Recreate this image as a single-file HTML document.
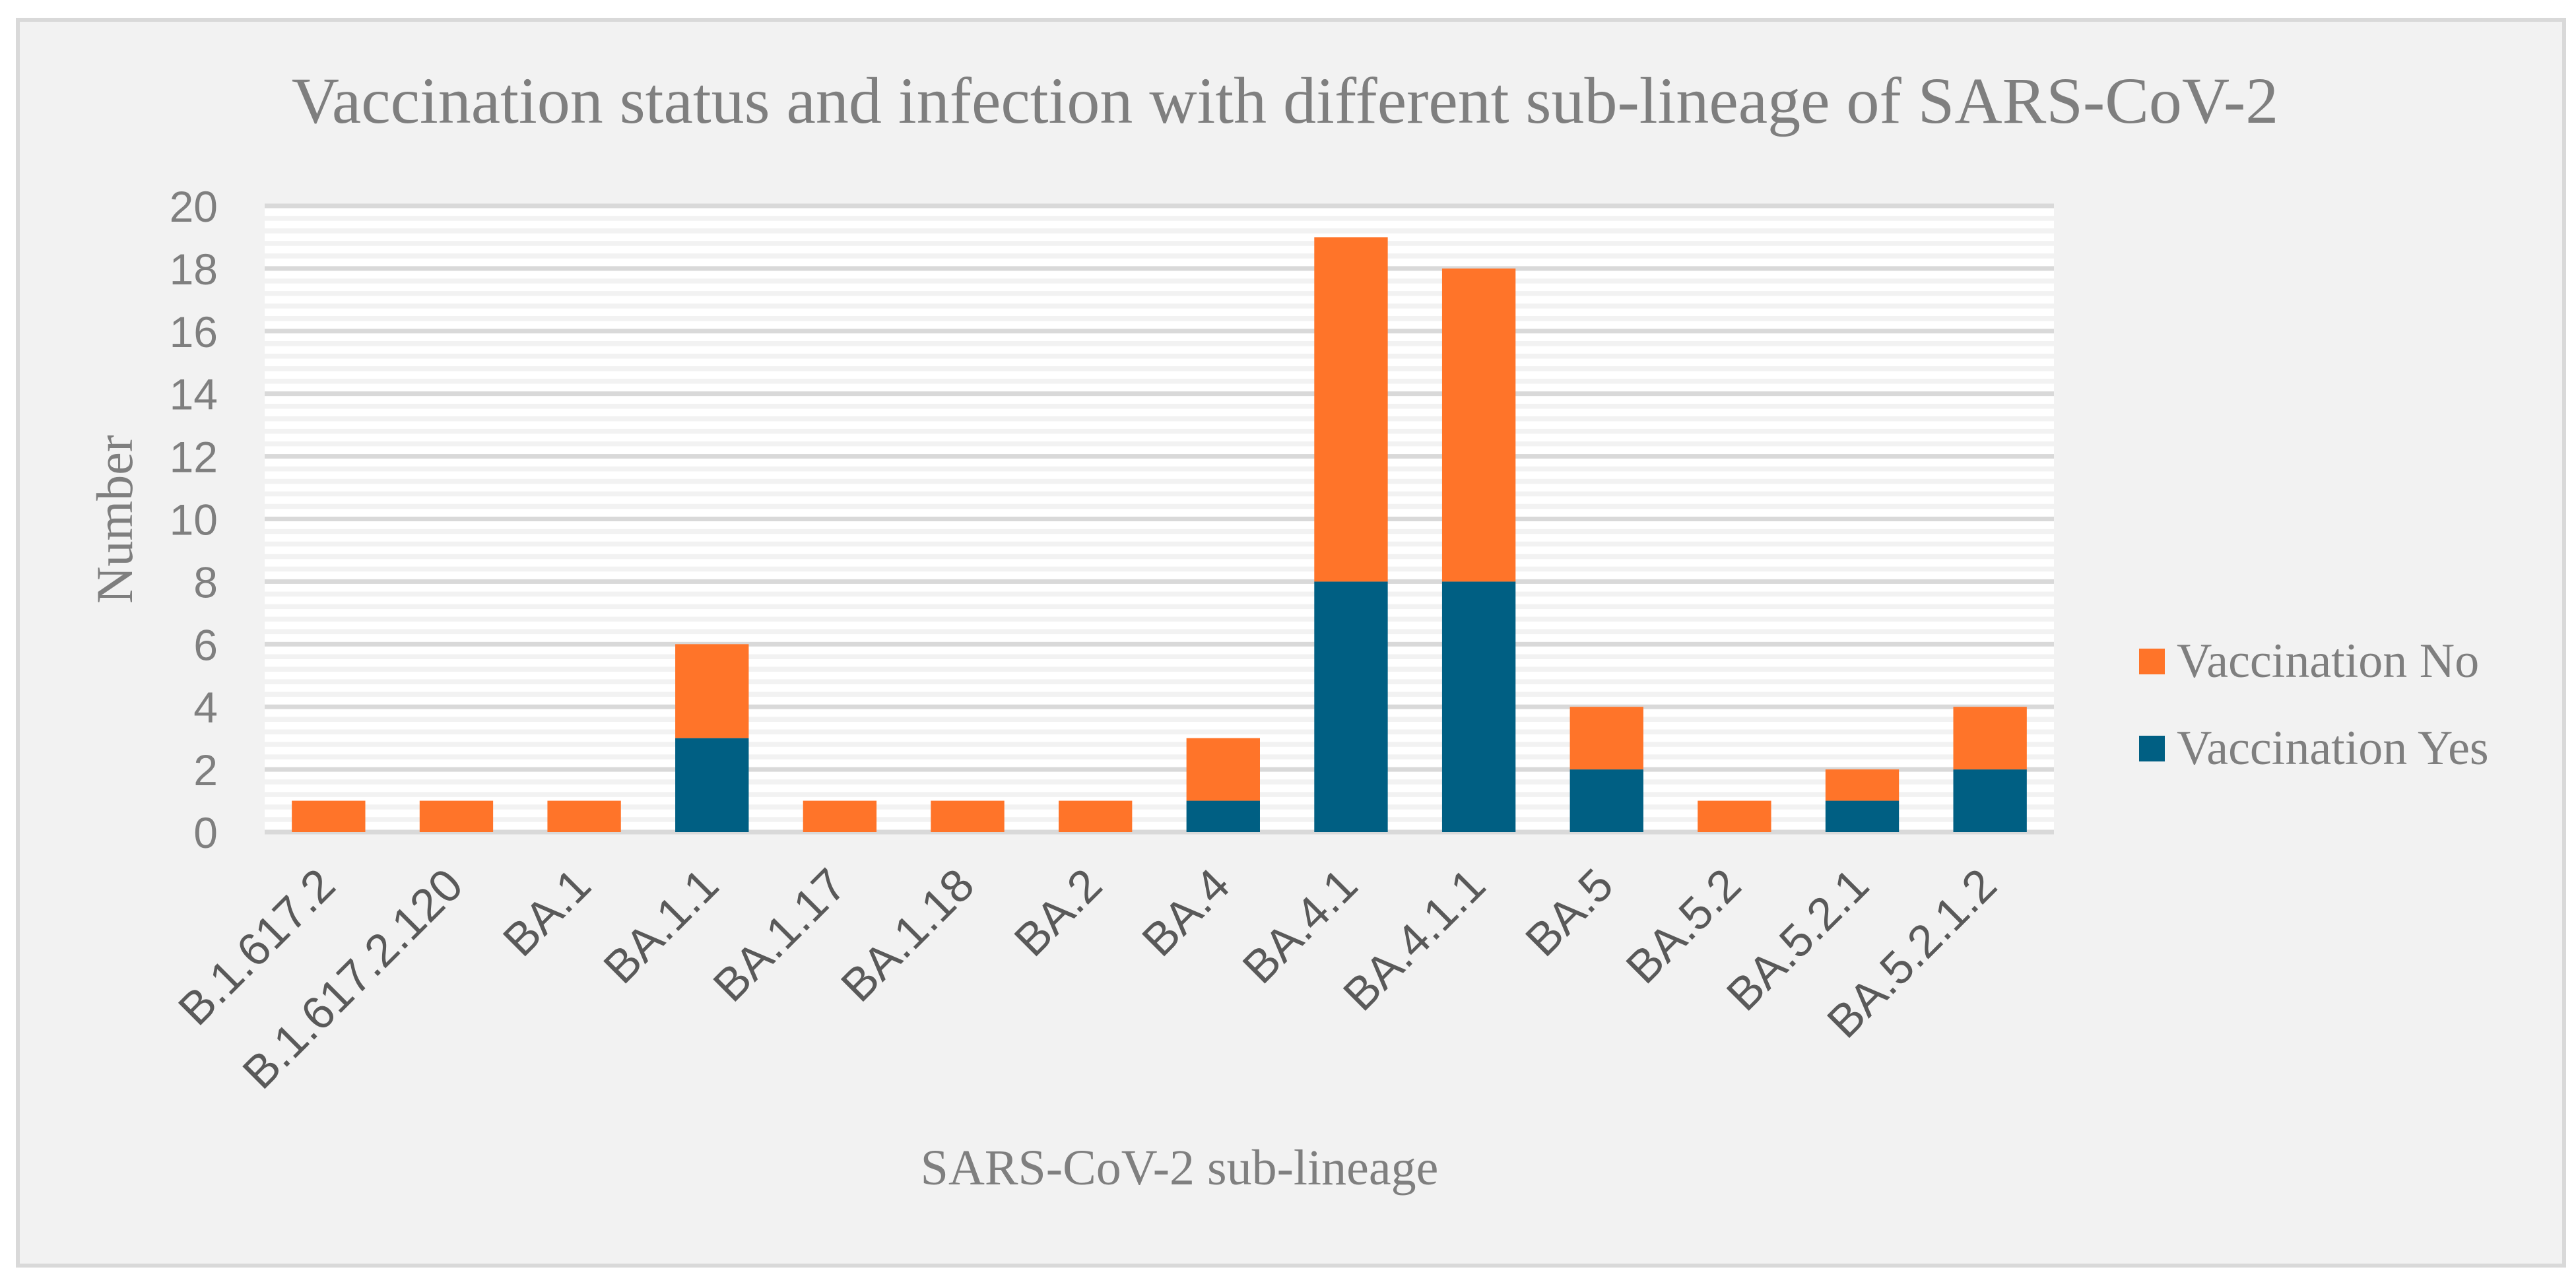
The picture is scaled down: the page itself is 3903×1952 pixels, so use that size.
<!DOCTYPE html>
<html><head><meta charset="utf-8"><style>
html,body{margin:0;padding:0;background:#fff}
svg{display:block}
</style></head><body>
<svg id="chart" width="3903" height="1952" viewBox="0 0 3903 1952" xmlns="http://www.w3.org/2000/svg">
<rect x="27" y="30" width="3858" height="1888" fill="#f2f2f2" stroke="#d9d9d9" stroke-width="6"/>
<text x="1947" y="186" text-anchor="middle" font-family="'Liberation Serif',serif" font-size="100" fill="#7f7f7f">Vaccination status and infection with different sub-lineage of SARS-CoV-2</text>
<g id="grid"></g>
<g id="yticks"></g>
<g id="bars"></g>
<g id="xticks"></g>
<text transform="translate(200,787) rotate(-90)" text-anchor="middle" font-family="'Liberation Serif',serif" font-size="78" fill="#7f7f7f">Number</text>
<text x="1787" y="1795" text-anchor="middle" font-family="'Liberation Serif',serif" font-size="76" fill="#7f7f7f">SARS-CoV-2 sub-lineage</text>
<g>
<rect x="3241" y="983" width="39" height="39" fill="#ff7429"/>
<text x="3298" y="1026" font-family="'Liberation Serif',serif" font-size="74" fill="#7f7f7f">Vaccination No</text>
<rect x="3241" y="1115" width="39" height="39" fill="#005f83"/>
<text x="3298" y="1158" font-family="'Liberation Serif',serif" font-size="74" fill="#7f7f7f">Vaccination Yes</text>
</g>
</svg>
<script>
const categories = ["B.1.617.2","B.1.617.2.120","BA.1","BA.1.1","BA.1.17","BA.1.18","BA.2","BA.4","BA.4.1","BA.4.1.1","BA.5","BA.5.2","BA.5.2.1","BA.5.2.1.2"];
const vaccYes = [0,0,0,3,0,0,0,1,8,8,2,0,1,2];
const vaccNo  = [1,1,1,3,1,1,1,2,11,10,2,1,1,2];
const yTicks = [0,2,4,6,8,10,12,14,16,18,20];

const NS = "http://www.w3.org/2000/svg";
const PL = 401, PR = 3112, PT = 312, PB = 1261, YMAX = 20;
const step = (PR - PL) / categories.length;
const barW = step * 0.575;
function yScale(v){ return PB - (v / YMAX) * (PB - PT); }
function xCenter(i){ return PL + step * (i + 0.5); }
function mk(tag, attrs, parent){ const e = document.createElementNS(NS, tag); for (const k in attrs) e.setAttribute(k, attrs[k]); parent.appendChild(e); return e; }

const grid = document.getElementById('grid');
const bg = mk('rect', {x:PL, y:PT, width:PR-PL, height:PB-PT, fill:'#ffffff'}, grid);


for (let v = 0.4; v < YMAX; v += 0.4) {
  if (Math.abs(v/2 - Math.round(v/2)) < 1e-6) continue;
  const ml = mk('rect', {x:PL, y:yScale(v)-3.75, width:PR-PL, height:7.5, fill:'#f2f2f2'}, grid);
  
  
}
const yt = document.getElementById('yticks');
yTicks.forEach(t => {
  const gl = mk('rect', {x:PL, y:yScale(t)-3.5, width:PR-PL, height:7, fill:'#d9d9d9'}, grid);
  
  
  const tx = mk('text', {x:330, y:yScale(t)+24, 'text-anchor':'end', 'font-family':"'Liberation Sans',sans-serif", 'font-size':66, fill:'#7f7f7f'}, yt);
  tx.textContent = t;
  
  
});
const bars = document.getElementById('bars');
const xt = document.getElementById('xticks');
categories.forEach((c, i) => {
  const cx = xCenter(i);
  if (vaccYes[i] > 0) {
    const b = mk('rect', {x:cx-barW/2, y:yScale(vaccYes[i]), width:barW, height:PB-yScale(vaccYes[i]), fill:'#005f83'}, bars);
    
    
  }
  const top = vaccYes[i] + vaccNo[i];
  const b2 = mk('rect', {x:cx-barW/2, y:yScale(top), width:barW, height:yScale(vaccYes[i])-yScale(top), fill:'#ff7429'}, bars);
  
  
  const lx = cx + 14, ly = 1346;
  const t = mk('text', {x:lx, y:ly, 'text-anchor':'end', transform:`rotate(-45 ${lx} ${ly})`, 'font-family':"'Liberation Sans',sans-serif", 'font-size':70, fill:'#595959'}, xt);
  t.textContent = c;
  
  
});
</script>
</body></html>
